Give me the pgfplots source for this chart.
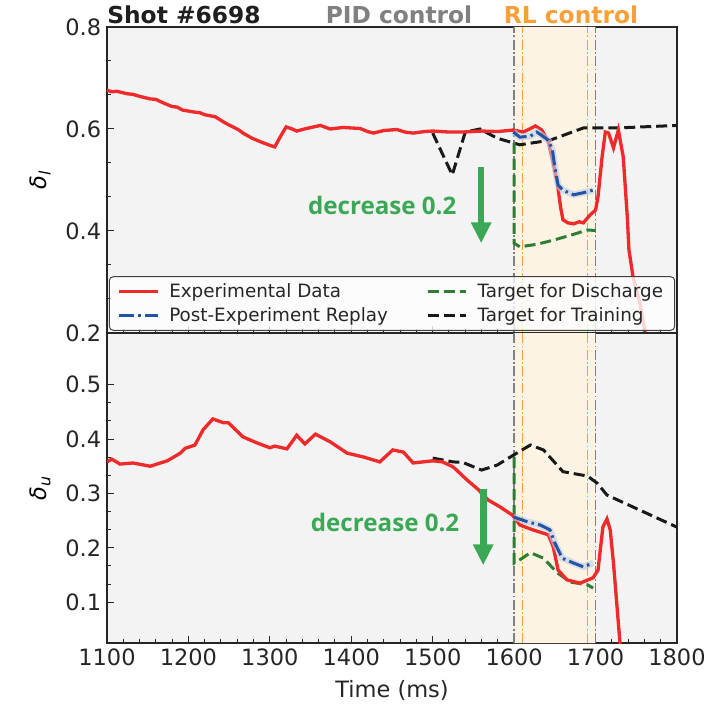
\documentclass[border=0pt]{standalone}
\usepackage{fontspec}
\setmainfont{DejaVu Sans}
\newfontfamily\annfont{Open Sans}
\usepackage{pgfplots}
\pgfplotsset{compat=1.18}
\usetikzlibrary{arrows.meta}

\definecolor{bg}{RGB}{243,243,243}
\definecolor{band}{RGB}{253,243,229}
\definecolor{expred}{RGB}{238,42,42}
\definecolor{repblue}{RGB}{33,84,165}
\definecolor{bandblue}{RGB}{190,204,228}
\definecolor{tgtgreen}{RGB}{46,125,50}
\definecolor{trnblack}{RGB}{25,25,25}
\definecolor{annogreen}{RGB}{58,168,85}
\definecolor{pidgray}{RGB}{128,128,128}
\definecolor{rlorange}{RGB}{247,160,55}

\tikzset{
  exp/.style={expred, line width=2pt},
  rep/.style={repblue, line width=1.8pt, dash pattern=on 9pt off 2.5pt on 1.5pt off 2.5pt},
  repband/.style={bandblue, line width=4pt, opacity=0.6},
  dis/.style={tgtgreen, line width=1.8pt, dash pattern=on 6.6pt off 3pt},
  trn/.style={trnblack, line width=1.8pt, dash pattern=on 6.6pt off 3pt},
  vgray/.style={pidgray, line width=0.9pt, dash pattern=on 6pt off 1.5pt on 1pt off 1.5pt},
  vorange/.style={rlorange, line width=0.9pt, dash pattern=on 6pt off 1.5pt on 1pt off 1.5pt},
  bigarrow/.style={annogreen, line width=4pt, -{Triangle[length=12.5pt, width=11.5pt]}},
}

\pgfplotsset{
  panel/.style={
    width=342pt, scale only axis,
    xmin=1100, xmax=1800,
    xtick={1100,1200,...,1800},
    axis background/.style={fill=bg},
    tick align=inside, xtick pos=left, ytick pos=left,
    minor x tick num=4, minor y tick num=2,
    major tick length=4pt, minor tick length=2.2pt,
    every tick/.style={black!85, line width=0.6pt},
    axis line style={line width=0.8pt, black!85},
    tick label style={font=\fontsize{13.5}{16}\selectfont, text=black!85},
    /pgf/number format/assume math mode=true,
    xticklabel style={/pgf/number format/set thousands separator={}},
    yticklabel style={/pgf/number format/.cd, fixed, fixed zerofill, precision=1},
    every axis y label/.style={at={(axis description cs:-0.117,0.5)}, rotate=90, anchor=center,
      font=\fontsize{13.5}{16}\selectfont},
    every axis x label/.style={at={(axis description cs:0.5,-0.152)}, anchor=center,
      font=\fontsize{13.5}{16}\selectfont, text=black!85},
    legend image code/.code={\draw[##1] (0pt,0pt) -- (23pt,0pt);},
  },
}

\begin{document}
\begin{tikzpicture}
\useasboundingbox (-64.2pt,-38.4pt) rectangle (360pt,385.8pt);

% ---------------- upper panel: delta_l ----------------
\begin{axis}[panel, name=top,
  at={(0pt,186pt)}, anchor=south west, height=183.6pt,
  ymin=0.2, ymax=0.8, ytick={0.2,0.4,0.6,0.8},
  xticklabels={},
  ylabel={{\itshape δ\textsubscript{l}}},
  legend style={at={(axis description cs:0.5,0.007)}, anchor=south,
    font=\fontsize{11}{13}\selectfont, text=black!85,
    draw=black!75, line width=0.6pt, rounded corners=2.5pt,
    fill=white, fill opacity=0.8, text opacity=1,
    inner xsep=5pt, inner ysep=2pt, row sep=0.5pt,
    /tikz/column 1/.style={column sep=4pt},
    /tikz/column 2/.style={column sep=21pt},
    /tikz/column 3/.style={column sep=4pt}},
  legend columns=2, legend cell align=left,
]
\addplot[fill=band, draw=none, forget plot] coordinates {(1600,0.2) (1700,0.2) (1700,0.8) (1600,0.8)} \closedcycle;
\addplot[vgray, forget plot] coordinates {(1600,0.2) (1600,0.8)};
\addplot[vgray, forget plot] coordinates {(1700,0.2) (1700,0.8)};
\addplot[vorange, forget plot] coordinates {(1610,0.2) (1610,0.8)};
\addplot[vorange, forget plot] coordinates {(1690,0.2) (1690,0.8)};

% target for training
\addplot[trn, forget plot] coordinates {
(1500,0.592) (1524,0.510) (1540,0.594) (1558,0.600) (1579,0.582) (1607,0.569)
(1644,0.578) (1685,0.602) (1726,0.602) (1800,0.607)};
% target for discharge
\addplot[dis, forget plot] coordinates {
(1600,0.573) (1600,0.376) (1607,0.369) (1628,0.374) (1648,0.382) (1670,0.392) (1690,0.402) (1700,0.401)};
% experimental data
\addplot[exp, forget plot] coordinates {
(1100,0.676) (1106,0.673) (1112,0.674) (1125,0.669) (1132,0.668) (1140,0.664) (1153,0.659)
(1160,0.658) (1168,0.652) (1180,0.644) (1186,0.643) (1193,0.637) (1208,0.633) (1214,0.632)
(1220,0.628) (1233,0.624) (1238,0.619) (1245,0.612) (1256,0.603) (1262,0.598) (1267,0.592)
(1278,0.582) (1290,0.574) (1300,0.568) (1306,0.565) (1314,0.588) (1320,0.604) (1326,0.601)
(1333,0.596) (1345,0.601) (1362,0.607) (1374,0.600) (1390,0.603) (1411,0.601) (1420,0.595)
(1427,0.592) (1440,0.597) (1456,0.599) (1466,0.594) (1476,0.592) (1490,0.595) (1500,0.596)
(1520,0.594) (1537,0.594) (1560,0.596) (1580,0.595) (1599,0.598) (1611,0.594) (1619,0.600)
(1626,0.606) (1634,0.598) (1642,0.575) (1648,0.533) (1653,0.494) (1657,0.447) (1660,0.422)
(1666,0.416) (1673,0.414) (1680,0.418) (1685,0.416) (1693,0.431) (1700,0.441) (1703,0.467)
(1708,0.545) (1712,0.594) (1716,0.592) (1722,0.563) (1728,0.598) (1734,0.545) (1739,0.427)
(1741,0.363) (1746,0.310) (1754,0.262) (1762,0.190)};
% post-experiment replay
\addplot[repband, forget plot] coordinates {
(1599,0.594) (1607,0.584) (1620,0.586) (1628,0.594) (1642,0.578) (1647,0.559) (1650,0.525)
(1654,0.490) (1660,0.480) (1673,0.471) (1685,0.475) (1697,0.480)};
\addplot[rep, forget plot] coordinates {
(1599,0.594) (1607,0.584) (1620,0.586) (1628,0.594) (1642,0.578) (1647,0.559) (1650,0.525)
(1654,0.490) (1660,0.480) (1673,0.471) (1685,0.475) (1697,0.480)};

\draw[bigarrow] (axis cs:1559.5,0.525) -- (axis cs:1559.5,0.376);
\node[annogreen, font=\annfont\bfseries\fontsize{14.5}{17}\selectfont, anchor=center]
  at (axis cs:1438,0.451) {decrease 0.2};

\addlegendimage{exp}\addlegendentry{Experimental Data}
\addlegendimage{dis}\addlegendentry{Target for Discharge}
\addlegendimage{rep}\addlegendentry{Post-Experiment Replay}
\addlegendimage{trn}\addlegendentry{Target for Training}
\end{axis}

% ---------------- lower panel: delta_u ----------------
\begin{axis}[panel, name=bot,
  at={(0pt,0pt)}, anchor=south west, height=186pt,
  ymin=0.025, ymax=0.595, ytick={0.1,0.2,0.3,0.4,0.5},
  ylabel={{\itshape δ\textsubscript{u}}},
  xlabel={Time (ms)},
]
\addplot[fill=band, draw=none] coordinates {(1600,0.025) (1700,0.025) (1700,0.595) (1600,0.595)} \closedcycle;
\addplot[vgray] coordinates {(1600,0.025) (1600,0.595)};
\addplot[vgray] coordinates {(1700,0.025) (1700,0.595)};
\addplot[vorange] coordinates {(1610,0.025) (1610,0.595)};
\addplot[vorange] coordinates {(1690,0.025) (1690,0.595)};

\addplot[trn] coordinates {
(1500,0.365) (1525,0.358) (1537,0.357) (1560,0.343) (1579,0.352) (1603,0.374) (1620,0.389)
(1636,0.380) (1660,0.340) (1690,0.332) (1702,0.319) (1714,0.297) (1800,0.238)};
\addplot[dis] coordinates {
(1600,0.367) (1600,0.172) (1607,0.178) (1620,0.191) (1636,0.181) (1653,0.154) (1669,0.137)
(1690,0.132) (1697,0.126)};
\addplot[exp] coordinates {
(1100,0.358) (1106,0.363) (1116,0.354) (1132,0.356) (1153,0.350) (1174,0.360) (1190,0.374)
(1196,0.383) (1208,0.389) (1218,0.417) (1230,0.437) (1243,0.430) (1249,0.430) (1267,0.404)
(1284,0.393) (1300,0.384) (1306,0.387) (1321,0.382) (1333,0.407) (1343,0.391) (1356,0.409)
(1374,0.395) (1395,0.374) (1415,0.367) (1435,0.358) (1451,0.380) (1464,0.376) (1476,0.356)
(1488,0.358) (1500,0.360) (1512,0.358) (1525,0.349) (1542,0.325) (1556,0.307) (1568,0.288)
(1583,0.275) (1598,0.260) (1607,0.242) (1623,0.233) (1642,0.224) (1648,0.202) (1654,0.159)
(1665,0.141) (1681,0.135) (1697,0.145) (1703,0.159) (1709,0.238) (1714,0.253) (1718,0.233)
(1722,0.172) (1727,0.080) (1730,0.025) (1732,0.000)};
\addplot[repband] coordinates {
(1599,0.257) (1616,0.248) (1632,0.242) (1644,0.233) (1650,0.209) (1659,0.181) (1673,0.172)
(1685,0.165) (1697,0.172)};
\addplot[rep] coordinates {
(1599,0.257) (1616,0.248) (1632,0.242) (1644,0.233) (1650,0.209) (1659,0.181) (1673,0.172)
(1685,0.165) (1697,0.172)};

\draw[bigarrow] (axis cs:1562,0.308) -- (axis cs:1562,0.168);
\node[annogreen, font=\annfont\bfseries\fontsize{14.5}{17}\selectfont, anchor=center]
  at (axis cs:1441.5,0.246) {decrease 0.2};
\end{axis}

% titles above the upper panel
\node[anchor=base west, inner sep=0pt, font=\bfseries\fontsize{14}{16}\selectfont, text=black!88]
  at (0pt,372pt) {Shot \#6698};
\node[anchor=base, font=\bfseries\fontsize{14}{16}\selectfont, text=pidgray]
  at (175.2pt,372pt) {PID control};
\node[anchor=base, font=\bfseries\fontsize{14}{16}\selectfont, text=rlorange]
  at (278.4pt,372pt) {RL control};
\end{tikzpicture}
\end{document}
